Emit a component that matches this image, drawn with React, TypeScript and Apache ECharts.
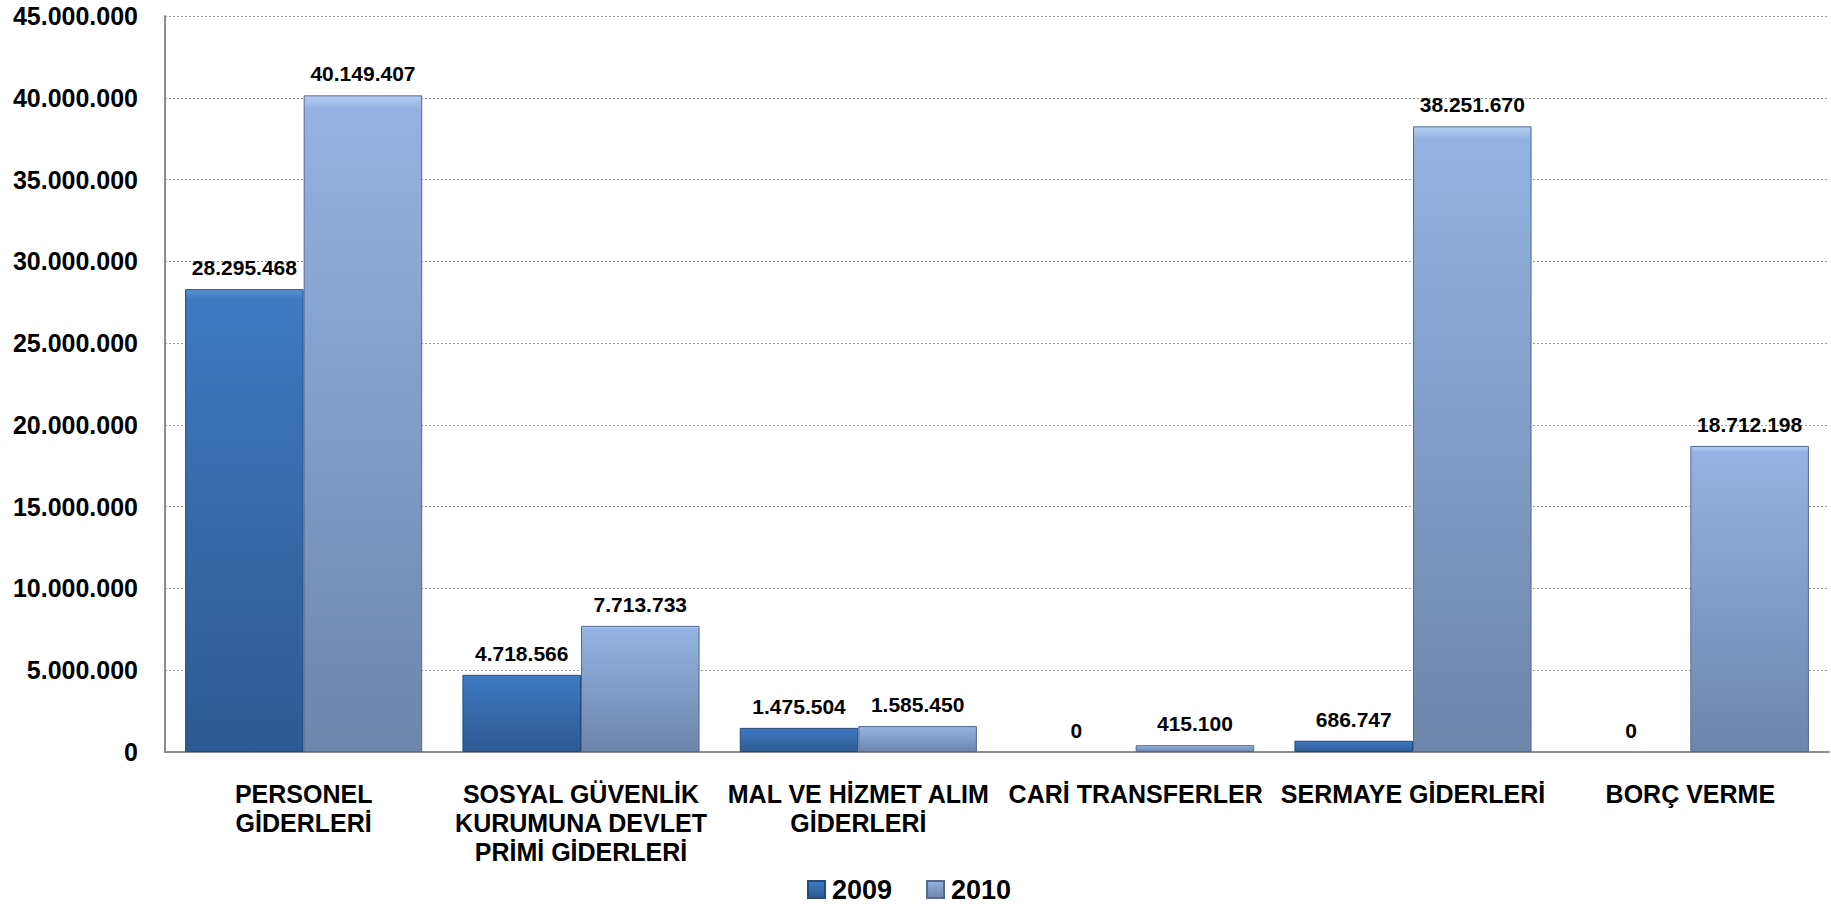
import React, { useEffect, useRef } from "react";
import * as echarts from "echarts";

const categories = [
  "PERSONEL\nGİDERLERİ",
  "SOSYAL GÜVENLİK\nKURUMUNA DEVLET\nPRİMİ GİDERLERİ",
  "MAL VE HİZMET ALIM\nGİDERLERİ",
  "CARİ TRANSFERLER",
  "SERMAYE GİDERLERİ",
  "BORÇ VERME",
];
const seriesNames = ["2009", "2010"];
const values2009 = [28295468, 4718566, 1475504, 0, 686747, 0];
const values2010 = [40149407, 7713733, 1585450, 415100, 38251670, 18712198];
const yMin = 0;
const yMax = 45000000;
const yInterval = 5000000;

const FONT = "'Liberation Sans', Arial, sans-serif";

function fmt(v: number): string {
  return Math.round(v)
    .toString()
    .replace(/\B(?=(\d{3})+(?!\d))/g, ".");
}

function toData(vals: number[]) {
  return vals.map((v) =>
    v === 0
      ? { value: v, itemStyle: { borderWidth: 0, color: "rgba(0,0,0,0)" } }
      : v
  );
}

export default function App() {
  const ref = useRef<HTMLDivElement>(null);
  useEffect(() => {
    if (!ref.current) return;
    const chart = echarts.init(ref.current, undefined, { renderer: "svg" });
    const grad2009 = new echarts.graphic.LinearGradient(0, 0, 0, 1, [
      { offset: 0, color: "#5a93d8" },
      { offset: 0.02, color: "#3e79c2" },
      { offset: 1, color: "#2d5a92" },
    ]);
    const grad2010 = new echarts.graphic.LinearGradient(0, 0, 0, 1, [
      { offset: 0, color: "#b3cdf2" },
      { offset: 0.02, color: "#93b2e3" },
      { offset: 1, color: "#6e85ac" },
    ]);
    const labelCfg = {
      show: true,
      position: "top",
      distance: 11,
      formatter: (p: any) => fmt(p.value),
      fontFamily: FONT,
      fontWeight: "bold",
      fontSize: 21,
      color: "#000",
    };
    chart.setOption({
      animation: false,
      backgroundColor: "#fff",
      grid: { left: 165, right: 2, top: 16, bottom: 152 },
      legend: {
        data: seriesNames,
        left: 802,
        top: 871,
        itemWidth: 17,
        itemHeight: 17,
        itemGap: 34,
        icon: "rect",
        textStyle: {
          fontFamily: FONT,
          fontWeight: "bold",
          fontSize: 27,
          color: "#000",
          padding: [0, 0, 0, 2],
        },
      },
      xAxis: {
        type: "category",
        data: categories,
        axisTick: { show: false },
        axisLine: { show: true, lineStyle: { color: "#8c8c8c", width: 2 } },
        axisLabel: {
          interval: 0,
          margin: 27,
          fontFamily: FONT,
          fontWeight: "bold",
          fontSize: 25,
          lineHeight: 29,
          color: "#000",
          align: "center",
        },
      },
      yAxis: {
        type: "value",
        min: yMin,
        max: yMax,
        interval: yInterval,
        axisLine: { show: true, lineStyle: { color: "#8c8c8c", width: 2 } },
        axisTick: { show: false },
        splitLine: {
          show: true,
          lineStyle: { color: "#9a9a9a", type: [2, 2], width: 1 },
        },
        axisLabel: {
          margin: 27,
          fontFamily: FONT,
          fontWeight: "bold",
          fontSize: 25,
          color: "#000",
          formatter: (v: number) => fmt(v),
        },
      },
      series: [
        {
          name: seriesNames[0],
          type: "bar",
          data: toData(values2009),
          barGap: "0%",
          barCategoryGap: "14.5%",
          itemStyle: { color: grad2009, borderColor: "#274a78", borderWidth: 1 },
          label: labelCfg,
        },
        {
          name: seriesNames[1],
          type: "bar",
          data: toData(values2010),
          barGap: "0%",
          barCategoryGap: "14.5%",
          itemStyle: { color: grad2010, borderColor: "#56698c", borderWidth: 1 },
          label: labelCfg,
        },
      ],
    });
    return () => chart.dispose();
  }, []);
  return (
    <div
      ref={ref}
      style={{ position: "fixed", left: 0, top: 0, width: 1831, height: 904 }}
    />
  );
}
